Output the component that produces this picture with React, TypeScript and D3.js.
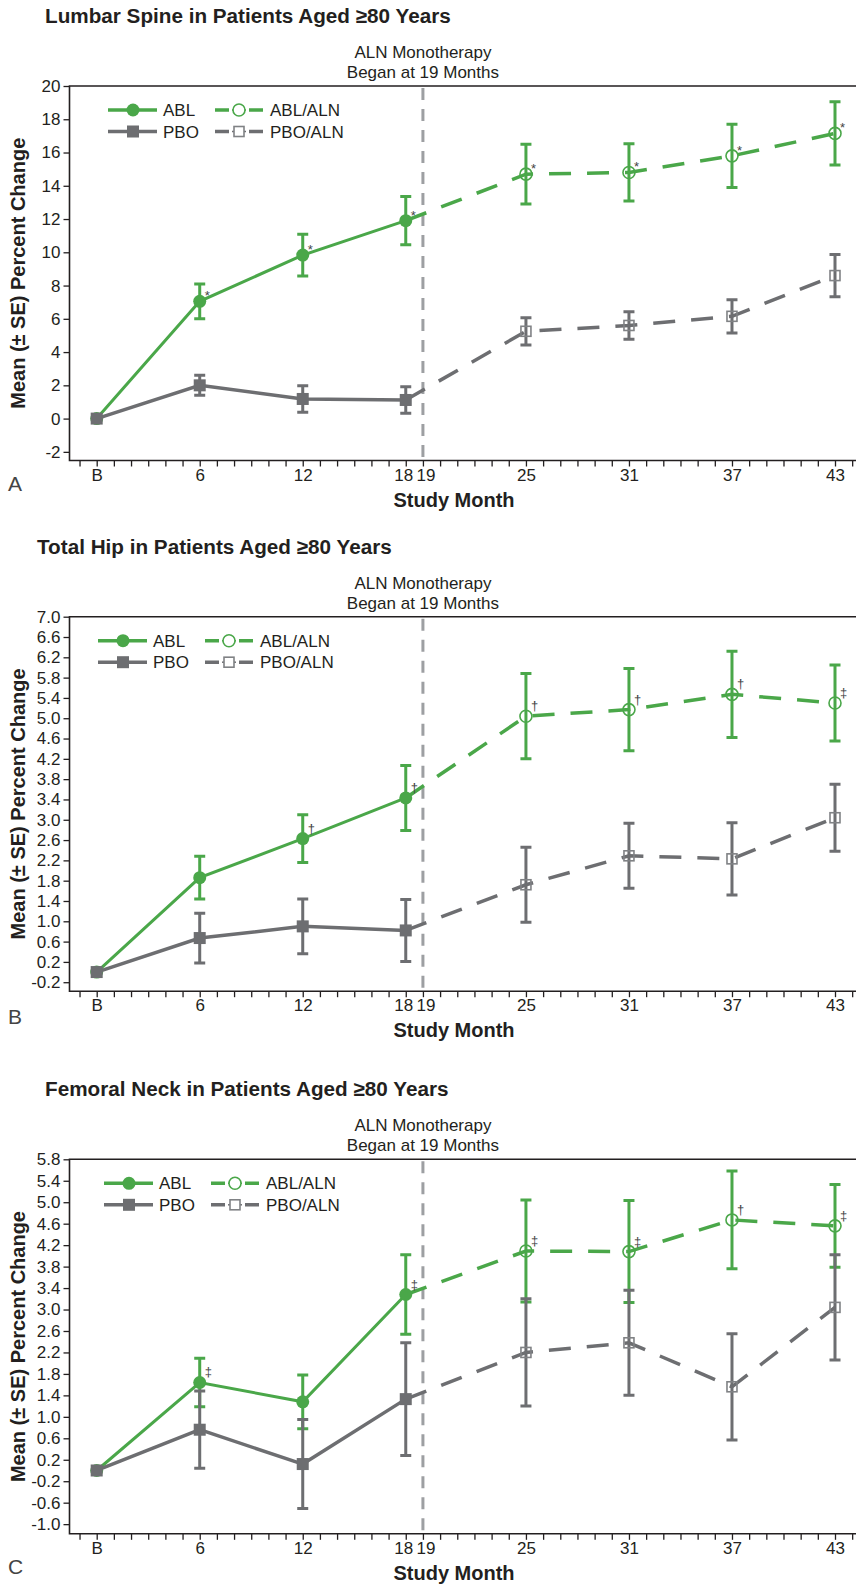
import React, { useEffect, useRef } from 'react';
import * as d3 from 'd3';

// study months
const ablMonths = [0, 6, 12, 18];
const alnMonths = [25, 31, 37, 43];
const xTickMonths = [0, 6, 12, 18, 19, 25, 31, 37, 43];
const xTickLabels = ['B', '6', '12', '18', '19', '25', '31', '37', '43'];

// Lumbar spine
const spineAbl = [0, 7.05, 9.83, 11.9];
const spineAblSe = [0, 1.05, 1.25, 1.45];
const spineAblAln = [14.7, 14.8, 15.8, 17.15];
const spineAblAlnSe = [1.8, 1.72, 1.9, 1.9];
const spinePbo = [0, 2.0, 1.18, 1.12];
const spinePboSe = [0, 0.6, 0.8, 0.8];
const spinePboAln = [5.25, 5.6, 6.15, 8.6];
const spinePboAlnSe = [0.82, 0.83, 1.0, 1.27];
const spineAblMarks = ['', '*', '*', '*'];
const spineAlnMarks = ['*', '*', '*', '*'];
const spineTicks = ['-2', '0', '2', '4', '6', '8', '10', '12', '14', '16', '18', '20'];

// Total hip
const hipAbl = [0, 1.86, 2.63, 3.43];
const hipAblSe = [0, 0.42, 0.47, 0.64];
const hipAblAln = [5.04, 5.17, 5.47, 5.3];
const hipAblAlnSe = [0.84, 0.81, 0.85, 0.75];
const hipPbo = [0, 0.67, 0.9, 0.82];
const hipPboSe = [0, 0.49, 0.54, 0.61];
const hipPboAln = [1.72, 2.29, 2.23, 3.04];
const hipPboAlnSe = [0.74, 0.64, 0.71, 0.66];
const hipAblMarks = ['', '', '†', '†'];
const hipAlnMarks = ['†', '†', '†', '‡'];
const hipTicks = ['-0.2', '0.2', '0.6', '1.0', '1.4', '1.8', '2.2', '2.6', '3.0', '3.4', '3.8', '4.2', '4.6', '5.0', '5.4', '5.8', '6.2', '6.6', '7.0'];

// Femoral neck
const neckAbl = [0, 1.64, 1.28, 3.28];
const neckAblSe = [0, 0.45, 0.5, 0.74];
const neckAblAln = [4.09, 4.08, 4.67, 4.56];
const neckAblAlnSe = [0.95, 0.95, 0.91, 0.77];
const neckPbo = [0, 0.76, 0.12, 1.33];
const neckPboSe = [0, 0.72, 0.83, 1.05];
const neckPboAln = [2.2, 2.38, 1.56, 3.04];
const neckPboAlnSe = [1.0, 0.98, 0.99, 0.98];
const neckAblMarks = ['', '‡', '', '‡'];
const neckAlnMarks = ['‡', '‡', '†', '‡'];
const neckTicks = ['-1.0', '-0.6', '-0.2', '0.2', '0.6', '1.0', '1.4', '1.8', '2.2', '2.6', '3.0', '3.4', '3.8', '4.2', '4.6', '5.0', '5.4', '5.8'];

const GREEN = '#4aa749';
const GRAY = '#6d6e71';
const INK = '#231f20';
const FONT = 'Liberation Sans, Arial, Helvetica, sans-serif';

const panels = [
  {
    title: 'Lumbar Spine in Patients Aged ≥80 Years', titleX: 45, letter: 'A', letterDy: 30,
    top: 86, yMin: -2.52, yMax: 20, legendX: 108, ticks: spineTicks,
    abl: spineAbl, ablSe: spineAblSe, ablAln: spineAblAln, ablAlnSe: spineAblAlnSe,
    pbo: spinePbo, pboSe: spinePboSe, pboAln: spinePboAln, pboAlnSe: spinePboAlnSe,
    ablMarks: spineAblMarks, alnMarks: spineAlnMarks,
  },
  {
    title: 'Total Hip in Patients Aged ≥80 Years', titleX: 37, letter: 'B', letterDy: 33,
    top: 616.7, yMin: -0.377, yMax: 7.0, legendX: 98, ticks: hipTicks,
    abl: hipAbl, ablSe: hipAblSe, ablAln: hipAblAln, ablAlnSe: hipAblAlnSe,
    pbo: hipPbo, pboSe: hipPboSe, pboAln: hipPboAln, pboAlnSe: hipPboAlnSe,
    ablMarks: hipAblMarks, alnMarks: hipAlnMarks,
  },
  {
    title: 'Femoral Neck in Patients Aged ≥80 Years', titleX: 45, letter: 'C', letterDy: 40,
    top: 1159.3, yMin: -1.18, yMax: 5.8, legendX: 104, ticks: neckTicks,
    abl: neckAbl, ablSe: neckAblSe, ablAln: neckAblAln, ablAlnSe: neckAblAlnSe,
    pbo: neckPbo, pboSe: neckPboSe, pboAln: neckPboAln, pboAlnSe: neckPboAlnSe,
    ablMarks: neckAblMarks, alnMarks: neckAlnMarks,
  },
];

const frameLeft = 69.5;
const frameRight = 856;
const frameH = 374.5;

const App = () => {
  const svgRef = useRef(null);

  useEffect(() => {
    const svg = d3.select(svgRef.current);
    svg.selectAll('*').remove();
    svg.style('font-family', FONT);

    const x = d3.scaleLinear().domain([0, 43]).range([96.7, 835]);

    panels.forEach((p) => {
      const bottom = p.top + frameH;
      const y = d3.scaleLinear().domain([p.yMin, p.yMax]).range([bottom, p.top]);
      const g = svg.append('g');

      // title
      g.append('text')
        .attr('x', p.titleX).attr('y', p.top - 63)
        .style('font-size', '20.7px').style('font-weight', 'bold').style('fill', INK)
        .text(p.title);

      // y axis
      g.append('g')
        .attr('transform', `translate(${frameLeft},0)`)
        .call(d3.axisLeft(y).tickValues(p.ticks.map(Number)).tickFormat((d, i) => p.ticks[i]).tickSize(6).tickPadding(3))
        .call(a => a.select('.domain').remove())
        .call(a => a.selectAll('line').attr('stroke', INK).attr('stroke-width', 1.3))
        .call(a => a.selectAll('text').style('font-size', '17px').style('fill', INK).style('font-family', FONT));

      // x axis: a tick every month
      g.append('g')
        .attr('transform', `translate(0,${bottom})`)
        .call(d3.axisBottom(x).tickValues(d3.range(-1, 45)).tickFormat(d => {
          const i = xTickMonths.indexOf(d);
          return i >= 0 ? xTickLabels[i] : '';
        }).tickSize(6).tickPadding(2))
        .call(a => a.select('.domain').remove())
        .call(a => a.selectAll('line').attr('stroke', INK).attr('stroke-width', 1.3))
        .call(a => a.selectAll('text')
          .style('font-size', '17px').style('fill', INK).style('font-family', FONT)
          .attr('dx', d => (d === 18 ? -2.5 : d === 19 ? 2.5 : 0)));

      // frame
      g.append('path')
        .attr('d', `M${frameRight},${p.top}H${frameLeft}V${bottom}H${frameRight}`)
        .attr('fill', 'none').attr('stroke', INK).attr('stroke-width', 1.6);

      // axis titles
      g.append('text')
        .attr('transform', `translate(25,${p.top + frameH / 2}) rotate(-90)`)
        .attr('text-anchor', 'middle')
        .style('font-size', '20px').style('font-weight', 'bold').style('fill', INK)
        .text('Mean (± SE) Percent Change');
      g.append('text')
        .attr('x', 454).attr('y', bottom + 46)
        .attr('text-anchor', 'middle')
        .style('font-size', '20px').style('font-weight', 'bold').style('fill', INK)
        .text('Study Month');
      g.append('text')
        .attr('x', 8).attr('y', bottom + p.letterDy)
        .style('font-size', '21px').style('fill', '#444')
        .text(p.letter);

      // switch to ALN
      g.append('line')
        .attr('x1', x(19)).attr('x2', x(19)).attr('y1', p.top + 2).attr('y2', bottom)
        .attr('stroke', '#9d9fa2').attr('stroke-width', 3).attr('stroke-dasharray', '12 9');
      g.append('text')
        .attr('x', x(19)).attr('y', p.top - 28).attr('text-anchor', 'middle')
        .style('font-size', '17px').style('fill', INK).text('ALN Monotherapy');
      g.append('text')
        .attr('x', x(19)).attr('y', p.top - 8).attr('text-anchor', 'middle')
        .style('font-size', '17px').style('fill', INK).text('Began at 19 Months');

      const line = d3.line().x(d => x(d[0])).y(d => y(d[1]));
      const errBars = (months, vals, ses, color) => {
        months.forEach((m, i) => {
          if (!ses[i]) return;
          const cx = x(m), y0 = y(vals[i] - ses[i]), y1 = y(vals[i] + ses[i]);
          g.append('path')
            .attr('d', `M${cx},${y0}V${y1}M${cx - 5.5},${y0}H${cx + 5.5}M${cx - 5.5},${y1}H${cx + 5.5}`)
            .attr('fill', 'none').attr('stroke', color).attr('stroke-width', 3);
        });
      };
      const marks = (months, vals, labels) => {
        months.forEach((m, i) => {
          if (!labels[i]) return;
          g.append('text')
            .attr('x', x(m) + 5).attr('y', y(vals[i]) - (labels[i] === '*' ? 1 : 6))
            .style('font-size', '13px').style('fill', '#444')
            .text(labels[i]);
        });
      };
      const series = (vals, aln, se, alnSe, color, solidW, shape) => {
        const pts = ablMonths.map((m, i) => [m, vals[i]]);
        const alnPts = alnMonths.map((m, i) => [m, aln[i]]);
        errBars(ablMonths, vals, se, color);
        errBars(alnMonths, aln, alnSe, color);
        g.append('path').datum(pts).attr('d', line)
          .attr('fill', 'none').attr('stroke', color).attr('stroke-width', solidW);
        g.append('path').datum([pts[pts.length - 1], ...alnPts]).attr('d', line)
          .attr('fill', 'none').attr('stroke', color).attr('stroke-width', 3.5)
          .attr('stroke-dasharray', '22 16');
        if (shape === 'circle') {
          g.selectAll(null).data(pts).join('circle')
            .attr('cx', d => x(d[0])).attr('cy', d => y(d[1])).attr('r', 6.5).attr('fill', color);
          g.selectAll(null).data(alnPts).join('circle')
            .attr('cx', d => x(d[0])).attr('cy', d => y(d[1])).attr('r', 6)
            .attr('fill', 'none').attr('stroke', color).attr('stroke-width', 1.6);
        } else {
          g.selectAll(null).data(pts).join('rect')
            .attr('x', d => x(d[0]) - 6).attr('y', d => y(d[1]) - 6)
            .attr('width', 12).attr('height', 12).attr('fill', color);
          g.selectAll(null).data(alnPts).join('rect')
            .attr('x', d => x(d[0]) - 5).attr('y', d => y(d[1]) - 5)
            .attr('width', 10).attr('height', 10)
            .attr('fill', 'none').attr('stroke', '#808285').attr('stroke-width', 1.6);
        }
      };

      series(p.abl, p.ablAln, p.ablSe, p.ablAlnSe, GREEN, 3, 'circle');
      series(p.pbo, p.pboAln, p.pboSe, p.pboAlnSe, GRAY, 3.5, 'square');
      marks(ablMonths, p.abl, p.ablMarks);
      marks(alnMonths, p.ablAln, p.alnMarks);

      // legend
      const lx = p.legendX;
      const rows = [
        { label: 'ABL', color: GREEN, shape: 'circle', dashed: false, col: 0, row: 0 },
        { label: 'ABL/ALN', color: GREEN, shape: 'circle', dashed: true, col: 1, row: 0 },
        { label: 'PBO', color: GRAY, shape: 'square', dashed: false, col: 0, row: 1 },
        { label: 'PBO/ALN', color: GRAY, shape: 'square', dashed: true, col: 1, row: 1 },
      ];
      rows.forEach(r => {
        const x0 = lx + r.col * 107;
        const ly = p.top + 24 + r.row * 21.5;
        const lg = g.append('g');
        if (r.dashed) {
          lg.append('path').attr('d', `M${x0},${ly}h14M${x0 + 34},${ly}h14`)
            .attr('stroke', r.color).attr('stroke-width', 3.5);
          lg.append('path').attr('d', `M${x0 + 17},${ly}h14`)
            .attr('stroke', r.color).attr('stroke-width', 1.5);
          if (r.shape === 'circle') {
            lg.append('circle').attr('cx', x0 + 24).attr('cy', ly).attr('r', 6)
              .attr('fill', '#fff').attr('stroke', r.color).attr('stroke-width', 1.6);
          } else {
            lg.append('rect').attr('x', x0 + 19).attr('y', ly - 5).attr('width', 10).attr('height', 10)
              .attr('fill', '#fff').attr('stroke', '#808285').attr('stroke-width', 1.6);
          }
        } else {
          lg.append('path').attr('d', `M${x0},${ly}h49`)
            .attr('stroke', r.color).attr('stroke-width', 3.5);
          if (r.shape === 'circle') {
            lg.append('circle').attr('cx', x0 + 25).attr('cy', ly).attr('r', 6.5).attr('fill', r.color);
          } else {
            lg.append('rect').attr('x', x0 + 19).attr('y', ly - 6).attr('width', 12).attr('height', 12)
              .attr('fill', r.color);
          }
        }
        lg.append('text').attr('x', x0 + 55).attr('y', ly + 6)
          .style('font-size', '17px').style('fill', INK).text(r.label);
      });
    });
  }, []);

  return (
    <svg ref={svgRef} width={856} height={1585}
      style={{ position: 'absolute', left: 0, top: 0, background: '#fff' }} />
  );
};

export default App;
